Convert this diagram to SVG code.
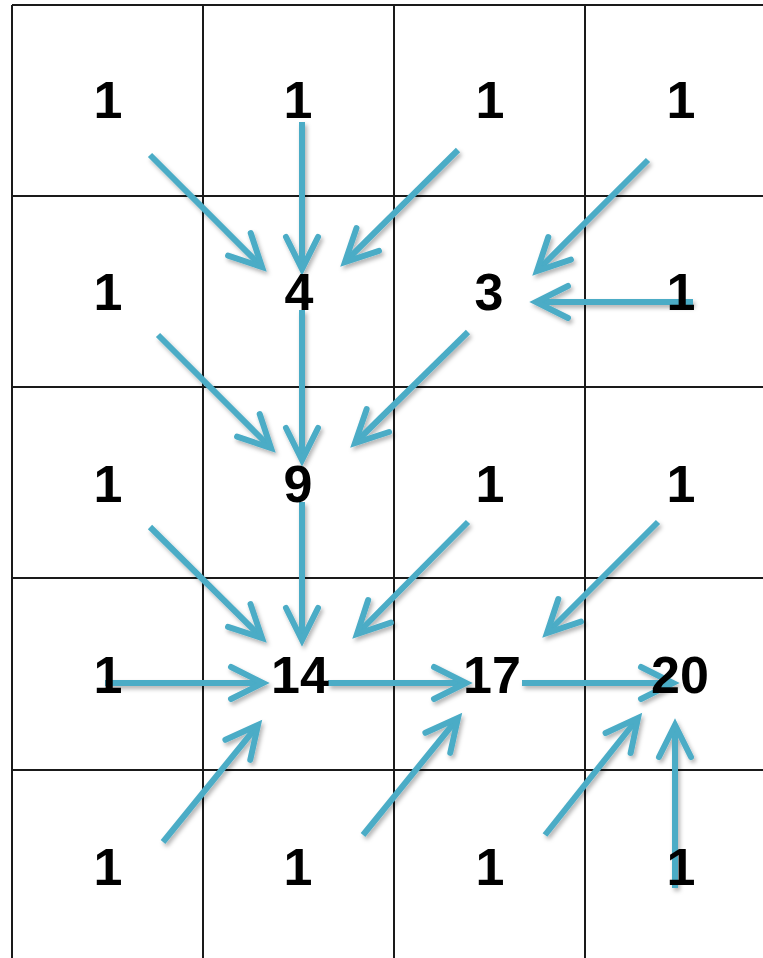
<svg xmlns="http://www.w3.org/2000/svg" width="763" height="958" viewBox="0 0 763 958">
<style>
.grid line{stroke:#1a1a1a;stroke-width:2}
.conn line{stroke:#4BACC6;stroke-width:6;fill:none;marker-end:url(#ah)}
.lbl{font-family:"Liberation Sans",Arial,sans-serif;font-weight:bold;font-size:52px;fill:#000;text-anchor:middle}
</style>
<defs>
<marker id="ah" markerUnits="userSpaceOnUse" viewBox="-40 -22 46 44" refX="0" refY="0" markerWidth="46" markerHeight="44" orient="auto" overflow="visible">
<path d="M-32,-16 L0,0 L-32,16" fill="none" stroke="#4BACC6" stroke-width="6" stroke-linecap="round" stroke-linejoin="miter"/>
</marker>
<filter id="sh" x="-10%" y="-10%" width="120%" height="120%">
<feDropShadow dx="2" dy="3" stdDeviation="2" flood-color="#000" flood-opacity="0.3"/>
</filter>
</defs>
<rect width="763" height="958" fill="#fff"/>
<g class="grid">
<line x1="12" y1="5" x2="763" y2="5"/>
<line x1="12" y1="196" x2="763" y2="196"/>
<line x1="12" y1="387" x2="763" y2="387"/>
<line x1="12" y1="578" x2="763" y2="578"/>
<line x1="12" y1="770" x2="763" y2="770"/>
<line x1="12" y1="5" x2="12" y2="958"/>
<line x1="203" y1="5" x2="203" y2="958"/>
<line x1="394" y1="5" x2="394" y2="958"/>
<line x1="585" y1="5" x2="585" y2="958"/>
</g>
<g id="connectors" class="conn" filter="url(#sh)">
<line x1="150" y1="155" x2="262" y2="267"/>
<line x1="302" y1="122" x2="302" y2="269"/>
<line x1="458" y1="150" x2="345" y2="262"/>
<line x1="648" y1="160" x2="537" y2="271"/>
<line x1="693" y1="302" x2="536" y2="302"/>
<line x1="158" y1="335" x2="271" y2="448"/>
<line x1="302" y1="310" x2="302" y2="460"/>
<line x1="468" y1="332" x2="355" y2="443"/>
<line x1="150" y1="527" x2="262" y2="638"/>
<line x1="302" y1="502" x2="302" y2="640"/>
<line x1="468" y1="522" x2="357" y2="634"/>
<line x1="658" y1="522" x2="547" y2="633"/>
<line x1="105" y1="683" x2="263" y2="683"/>
<line x1="163" y1="842" x2="258" y2="725"/>
<line x1="328" y1="683" x2="466" y2="683"/>
<line x1="363" y1="835" x2="458" y2="718"/>
<line x1="522" y1="683" x2="673" y2="683"/>
<line x1="545" y1="835" x2="638" y2="718"/>
<line x1="675" y1="888" x2="675" y2="725"/>
</g>
<g id="n11"><text class="lbl" x="108" y="118">1</text></g>
<g id="n12"><text class="lbl" x="298" y="118">1</text></g>
<g id="n13"><text class="lbl" x="490" y="118">1</text></g>
<g id="n14"><text class="lbl" x="681" y="118">1</text></g>
<g id="n21"><text class="lbl" x="108" y="310">1</text></g>
<g id="n22"><text class="lbl" x="299" y="310">4</text></g>
<g id="n23"><text class="lbl" x="489" y="310">3</text></g>
<g id="n24"><text class="lbl" x="681" y="310">1</text></g>
<g id="n31"><text class="lbl" x="108" y="502">1</text></g>
<g id="n32"><text class="lbl" x="298" y="502">9</text></g>
<g id="n33"><text class="lbl" x="490" y="502">1</text></g>
<g id="n34"><text class="lbl" x="681" y="502">1</text></g>
<g id="n41"><text class="lbl" x="108" y="693">1</text></g>
<g id="n42"><text class="lbl" x="300" y="693">14</text></g>
<g id="n43"><text class="lbl" x="492" y="693">17</text></g>
<g id="n44"><text class="lbl" x="680" y="693">20</text></g>
<g id="n51"><text class="lbl" x="108" y="885">1</text></g>
<g id="n52"><text class="lbl" x="298" y="885">1</text></g>
<g id="n53"><text class="lbl" x="490" y="885">1</text></g>
<g id="n54"><text class="lbl" x="681" y="885">1</text></g>
</svg>
